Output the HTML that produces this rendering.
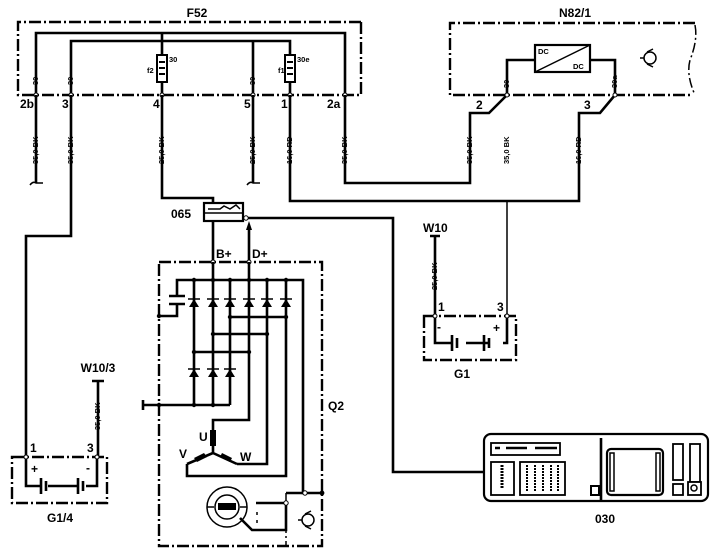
<!DOCTYPE html>
<html><head><meta charset="utf-8"><style>
html,body{margin:0;padding:0;background:#fff}
svg{display:block}
text{font-family:"Liberation Sans",sans-serif;font-weight:bold;fill:#000}
.w{stroke:#000;stroke-width:2.6;fill:none}
.t{stroke:#000;stroke-width:1.5;fill:none}
.d{stroke:#000;stroke-width:2.4;fill:none;stroke-dasharray:12 3 2 3}
.s{font-size:7.5px}
.l{font-size:12px}
</style></head><body>
<svg width="726" height="553" viewBox="0 0 726 553" xmlns="http://www.w3.org/2000/svg">
<!-- F52 -->
<text x="197" y="17" class="l" text-anchor="middle" font-size="14">F52</text>
<path class="d" d="M361 22 H18 V95 H361 M361 22 V95"/>
<path class="w" d="M36 95 V33 H345 V95 M71 95 V41 H290 V55 M162 33 V55 M162 82 V95 M253 41 V95 M290 82 V95"/>
<rect x="157" y="55" width="10" height="27" fill="#fff" stroke="#000" stroke-width="2"/>
<rect x="285" y="55" width="10" height="27" fill="#fff" stroke="#000" stroke-width="2"/>
<path d="M159 62 h6 M159 68 h6 M159 74 h6 M287 62 h6 M287 68 h6 M287 74 h6" stroke="#000" stroke-width="2"/>
<text x="169" y="62" class="s">30</text><text x="147" y="73" class="s">f2</text>
<text x="297" y="62" class="s">30e</text><text x="278" y="73" class="s">f1</text>
<g fill="#fff" stroke="#000" stroke-width="1"><circle cx="36" cy="95" r="2"/><circle cx="71" cy="95" r="2"/><circle cx="162" cy="95" r="2"/><circle cx="253" cy="95" r="2"/><circle cx="290" cy="95" r="2"/><circle cx="345" cy="95" r="2"/></g>
<g class="s"><text transform="translate(38,85) rotate(-90)">30</text><text transform="translate(73,85) rotate(-90)">30</text><text transform="translate(255,85) rotate(-90)">30</text></g>
<g class="l" font-size="10"><text x="20" y="108">2b</text><text x="62" y="108">3</text><text x="153" y="108">4</text><text x="244" y="108">5</text><text x="281" y="108">1</text><text x="327" y="108">2a</text></g>
<!-- wires below F52 -->
<path class="w" d="M36 95 V183 M71 95 V236 H26 V457 M162 95 V198 H213 V203 M253 95 V183 M290 95 V201 H579 V113 H600 L615 95 M345 95 V183 H470 V113 H489 L507 95"/>
<path class="t" d="M30 185 q3 -4 6 -2 h7 M247 185 q3 -4 6 -2 h7"/>
<g class="s"><text transform="translate(38,164) rotate(-90)">35,0 BK</text><text transform="translate(73,164) rotate(-90)">35,0 BK</text><text transform="translate(164,164) rotate(-90)">25,0 BK</text><text transform="translate(255,164) rotate(-90)">25,0 BK</text><text transform="translate(292,164) rotate(-90)">16,0 RD</text><text transform="translate(347,164) rotate(-90)">35,0 BK</text>
<text transform="translate(472,164) rotate(-90)">35,0 BK</text><text transform="translate(509,164) rotate(-90)">35,0 BK</text><text transform="translate(581,164) rotate(-90)">16,0 RD</text></g>
<!-- N82/1 -->
<text x="575" y="17" class="l" text-anchor="middle" font-size="13">N82/1</text>
<path class="d" d="M695 23 H450 V95 H693"/>
<path class="t" d="M695 25 q3 15 -5 35 q-4 15 5 35" stroke-width="2.2" stroke-dasharray="10 3 2 3"/>
<path class="w" d="M507 95 V60 H535 M590 60 H615 V95"/>
<rect x="535" y="45" width="55" height="27" fill="#fff" stroke="#000" stroke-width="2.2"/>
<path class="t" d="M535 72 L590 45"/>
<text x="538" y="54" class="s">DC</text><text x="573" y="69" class="s">DC</text>
<circle cx="650" cy="58" r="6" class="t" stroke-width="1.8"/><path class="t" d="M644 58 H640 M647 52 L653 49 M647 64 L653 67"/>
<g class="s"><text transform="translate(509,88) rotate(-90)">30</text><text transform="translate(617,88) rotate(-90)">30a</text></g>
<g fill="#fff" stroke="#000" stroke-width="1"><circle cx="507" cy="95" r="2"/><circle cx="615" cy="95" r="2"/></g>
<text x="476" y="109" class="l" font-size="10">2</text><text x="584" y="109" class="l" font-size="10">3</text>
<path class="t" d="M507 201 V316"/>
<!-- G1 -->
<text x="423" y="232" class="l">W10</text>
<path class="w" d="M430 236 H440 M435 236 V316 M435 316 V343 H452 M466 343 H488 M503 343 H507 V316"/>
<path class="w" d="M452 335 V351 M457 338 V348 M484 335 V351 M489 338 V348" stroke-width="2.2"/>
<path class="d" d="M424 316 H516 V360 H424 Z"/>
<text class="s" transform="translate(437,290) rotate(-90)">25,0 BK</text>
<g fill="#fff" stroke="#000" stroke-width="1"><circle cx="435" cy="316" r="2"/><circle cx="507" cy="316" r="2"/></g>
<text x="438" y="311" class="l" font-size="10">1</text><text x="497" y="311" class="l" font-size="10">3</text>
<text x="437" y="331" class="l">-</text><text x="493" y="332" class="l">+</text>
<text x="462" y="378" class="l" text-anchor="middle" font-size="13">G1</text>
<!-- G1/4 -->
<text x="98" y="372" class="l" text-anchor="middle">W10/3</text>
<path class="w" d="M92 381 H104 M98 381 V457 M26 457 V486 H41 M48 486 H78 M86 486 H97 V457"/>
<path class="w" d="M41 478 V494 M46 481 V491 M78 478 V494 M83 481 V491" stroke-width="2.2"/>
<path class="d" d="M12 457 H107 V503 H12 Z"/>
<text class="s" transform="translate(100,430) rotate(-90)">35,0 BK</text>
<g fill="#fff" stroke="#000" stroke-width="1"><circle cx="26" cy="457" r="2"/><circle cx="97" cy="457" r="2"/></g>
<text x="30" y="452" class="l" font-size="10">1</text><text x="87" y="452" class="l" font-size="10">3</text>
<text x="31" y="473" class="l">+</text><text x="86" y="472" class="l">-</text>
<text x="60" y="522" class="l" text-anchor="middle" font-size="13">G1/4</text>
<!-- 065 -->
<text x="171" y="218" class="l" font-size="13">065</text>
<rect x="204" y="203" width="39" height="18" fill="#fff" stroke="#000" stroke-width="2.2"/>
<path class="t" d="M204 213 H243 M208 209 h12 l4 -3 l6 3 l6 -4 l4 4"/>
<circle cx="246" cy="218" r="2.2" fill="#fff" stroke="#000"/>
<path class="w" d="M248 218 H393 V472 H484"/>
<path class="w" d="M213 221 V262 M249 228 V262"/>
<path d="M249 221 L246 230 H252 Z" fill="#000"/>
<text x="216" y="258" class="l" font-size="11">B+</text><text x="252" y="258" class="l" font-size="11">D+</text>
<!-- Q2 -->
<path class="d" d="M159 262 H322 V546 H159 Z"/>
<text x="328" y="410" class="l" font-size="13">Q2</text>
<g fill="#fff" stroke="#000" stroke-width="1"><circle cx="213" cy="262" r="2"/><circle cx="249" cy="262" r="2"/></g>
<path class="w" d="M177 296 V280 H303 V493 H322 M177 304 V316 H159 M169 296 H185 M169 304 H185
M194 280 V405 M213 262 V405 M230 280 V405 M249 262 V420 H213 V432 M267 280 V464 H237 M286 280 V476 H187 V464
M143 405 H230 M143 400 V410 M230 317 H286 M213 334 H267 M194 352 H249"/>
<g fill="#000">
<path d="M189 307 L199 307 L194 299 Z"/><path d="M208 307 L218 307 L213 299 Z"/><path d="M225 307 L235 307 L230 299 Z"/><path d="M244 307 L254 307 L249 299 Z"/><path d="M262 307 L272 307 L267 299 Z"/><path d="M281 307 L291 307 L286 299 Z"/>
<path d="M189 377 L199 377 L194 369 Z"/><path d="M208 377 L218 377 L213 369 Z"/><path d="M225 377 L235 377 L230 369 Z"/>
</g>
<path class="t" d="M188 299 H200 M207 299 H219 M224 299 H236 M243 299 H255 M261 299 H273 M280 299 H292 M188 369 H200 M207 369 H219 M224 369 H236" stroke-width="1.8"/>
<g fill="#000"><circle cx="194" cy="280" r="2.2"/><circle cx="213" cy="280" r="2.2"/><circle cx="230" cy="280" r="2.2"/><circle cx="249" cy="280" r="2.2"/><circle cx="267" cy="280" r="2.2"/><circle cx="286" cy="280" r="2.2"/>
<circle cx="230" cy="317" r="2.2"/><circle cx="286" cy="317" r="2.2"/><circle cx="213" cy="334" r="2.2"/><circle cx="267" cy="334" r="2.2"/><circle cx="194" cy="352" r="2.2"/><circle cx="249" cy="352" r="2.2"/>
<circle cx="159" cy="316" r="2.2"/><circle cx="159" cy="405" r="2.2"/><circle cx="194" cy="405" r="2.2"/><circle cx="213" cy="405" r="2.2"/><circle cx="322" cy="493" r="2.4"/></g>
<!-- stator -->
<rect x="210" y="430" width="6" height="16" fill="#000"/>
<path class="w" d="M213 446 V453 L187 464 M213 453 L237 464"/>
<path d="M194 458 l10 -5 l3 4 l-10 5 Z M222 453 l10 5 l-2 4 l-10 -5 Z" fill="#000"/>
<text x="199" y="441" class="l">U</text><text x="179" y="458" class="l">V</text><text x="240" y="461" class="l">W</text>
<!-- regulator -->
<circle cx="227" cy="507" r="20" class="t" stroke-width="1.8"/><circle cx="227" cy="507" r="12" class="t" stroke-width="1.8"/>
<rect x="218" y="503" width="18" height="7" fill="#000"/>
<path class="t" d="M207 507 H214 M240 507 H247"/>
<path class="w" d="M256 503 H286 M286 493 H303 M286 503 V530 H252 L240 518" stroke-width="1.8"/>
<path class="t" d="M286 493 V546" stroke-dasharray="8 3 2 3" stroke-width="1.8"/>
<circle cx="286" cy="503" r="2.2" fill="#fff" stroke="#000"/><circle cx="305" cy="493" r="2.2" fill="#fff" stroke="#000"/>
<path class="t" d="M257 512 v3 M257 520 v3"/>
<circle cx="308" cy="520" r="6" class="t" stroke-width="1.8"/><path class="t" d="M302 520 H298 M305 514 L311 511 M305 526 L311 529"/>
<!-- 030 -->
<rect x="484" y="434" width="224" height="67" rx="7" fill="#fff" stroke="#000" stroke-width="2.2"/>
<path class="w" d="M601 438 V500"/>
<rect x="491" y="443" width="69" height="12" fill="#fff" stroke="#000" stroke-width="1.8"/>
<path class="w" d="M495 448 H500 M506 448 H527 M535 448 H557" stroke-width="3"/>
<rect x="491" y="462" width="23" height="33" fill="#fff" stroke="#000" stroke-width="1.8"/>
<path d="M502 465 V489" stroke="#000" stroke-width="3" stroke-dasharray="2 1"/>
<rect x="520" y="462" width="45" height="33" fill="#fff" stroke="#000" stroke-width="1.8"/>
<path d="M527 465 V491 M535 465 V491 M543 465 V491 M551 465 V491 M558 465 V491" stroke="#000" stroke-width="2" stroke-dasharray="2 1"/>
<rect x="591" y="486" width="8" height="9" fill="#fff" stroke="#000" stroke-width="2"/>
<rect x="607" y="449" width="56" height="46" rx="4" fill="#fff" stroke="#000" stroke-width="2.2"/>
<rect x="610" y="453" width="4" height="38" fill="#fff" stroke="#000" stroke-width="1.5"/><rect x="656" y="453" width="4" height="38" fill="#fff" stroke="#000" stroke-width="1.5"/>
<rect x="673" y="444" width="10" height="36" fill="#fff" stroke="#000" stroke-width="1.8"/>
<rect x="690" y="444" width="10" height="38" fill="#fff" stroke="#000" stroke-width="1.8"/>
<rect x="673" y="484" width="10" height="11" fill="#fff" stroke="#000" stroke-width="1.8"/>
<rect x="688" y="482" width="13" height="13" fill="#fff" stroke="#000" stroke-width="1.8"/>
<circle cx="694" cy="488" r="3" class="t"/>
<text x="605" y="523" class="l" text-anchor="middle" font-size="13">030</text>
</svg>
</body></html>
